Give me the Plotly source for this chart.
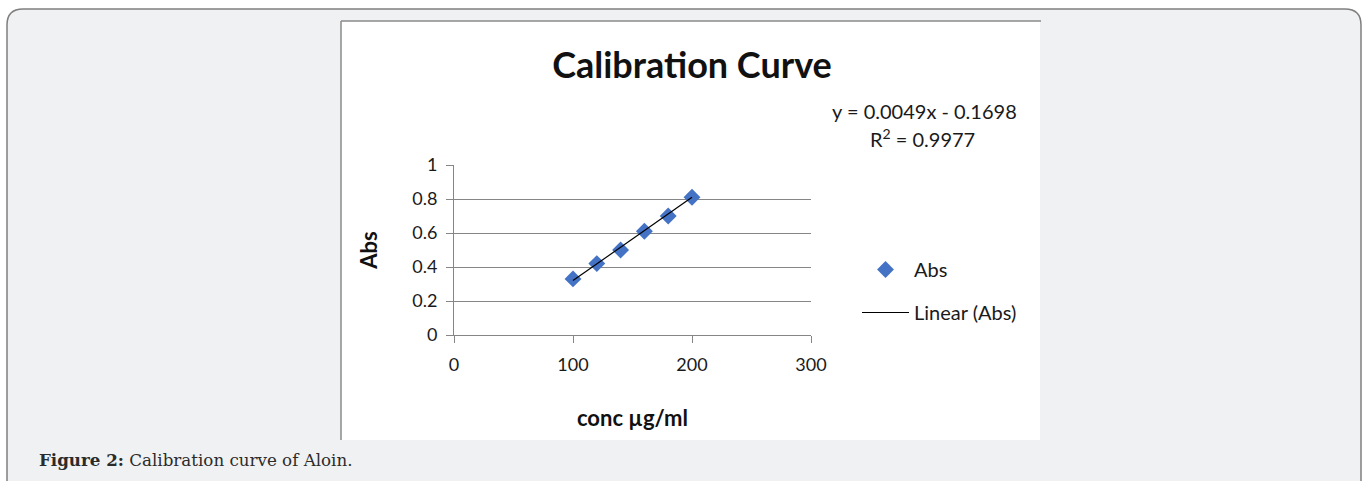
import plotly.graph_objects as go

W, H = 1362, 481

# ---- data ----
conc = [100, 120, 140, 160, 180, 200]
absorb = [0.33, 0.42, 0.50, 0.61, 0.70, 0.81]
slope = 0.0049
intercept = -0.1698
r2 = 0.9977
x_ticks = [0, 100, 200, 300]
y_ticks = [0, 0.2, 0.4, 0.6, 0.8, 1]

def px(x):
    return x / W

def py(y):
    return 1 - y / H

fit_x = [min(conc), max(conc)]
fit_y = [slope * v + intercept for v in fit_x]

FONT = "Lato"
BLUE = "#4472C4"
GRID = "#868686"
TXT = "#1a1a1a"

fig = go.Figure()
fig.add_trace(go.Scatter(
    x=conc, y=absorb, mode="markers", name="Abs", legendgroup="a",
    marker=dict(symbol="diamond", size=13, color=BLUE),
))
fig.add_trace(go.Scatter(
    x=fit_x, y=fit_y, mode="lines", name="Linear (Abs)", legendgroup="b",
    line=dict(color="black", width=1.2),
))

x0, x1 = px(454), px(811)
y0, y1 = py(335), py(165)

r = 16
bx0, by0, bx1, by1 = 7, 9, 1361, 500
box_path = (
    f"M {px(bx0)},{py(by0 + r)} "
    f"Q {px(bx0)},{py(by0)} {px(bx0 + r)},{py(by0)} "
    f"L {px(bx1 - r)},{py(by0)} "
    f"Q {px(bx1)},{py(by0)} {px(bx1)},{py(by0 + r)} "
    f"L {px(bx1)},{py(by1)} L {px(bx0)},{py(by1)} Z"
)

shapes = [
    dict(type="path", xref="paper", yref="paper", path=box_path,
         fillcolor="#f0f1f3", line=dict(color="#7f7f7f", width=1.5), layer="below"),
    dict(type="rect", xref="paper", yref="paper",
         x0=px(341), x1=px(1040), y0=py(440), y1=py(21),
         fillcolor="white", line=dict(width=0), layer="below"),
    dict(type="line", xref="paper", yref="paper",
         x0=px(341), x1=px(341), y0=py(440), y1=py(21),
         line=dict(color="#8a8a8a", width=1.5), layer="below"),
    dict(type="line", xref="paper", yref="paper",
         x0=px(341), x1=px(1041), y0=py(21), y1=py(21),
         line=dict(color="#8a8a8a", width=1.5), layer="below"),
]

annotations = [
    dict(xref="paper", yref="paper", x=px(925), y=py(111),
         text=f"y = {slope}x - {abs(intercept)}", showarrow=False,
         xanchor="center", yanchor="middle",
         font=dict(family=FONT, size=20, color=TXT)),
    dict(xref="paper", yref="paper", x=px(922), y=py(138),
         text=f"R<sup>2</sup> = {r2}", showarrow=False,
         xanchor="center", yanchor="middle",
         font=dict(family=FONT, size=20, color=TXT)),
    dict(xref="paper", yref="paper", x=px(37), y=py(460),
         text="<b>Figure 2:</b> Calibration curve of Aloin.", showarrow=False,
         xanchor="left", yanchor="middle",
         font=dict(family="DejaVu Serif", size=16.7, color="#2b2b2b")),
]

fig.update_layout(
    width=W, height=H,
    margin=dict(l=0, r=0, t=0, b=0, pad=0, autoexpand=False),
    paper_bgcolor="white",
    plot_bgcolor="rgba(0,0,0,0)",
    title=dict(text="<b>Calibration Curve</b>", x=px(692), y=py(65),
               xanchor="center", yanchor="middle", automargin=False,
               font=dict(family=FONT, size=36, color="#111")),
    shapes=shapes,
    annotations=annotations,
    showlegend=True,
    legend=dict(x=px(857), y=py(250), xanchor="left", yanchor="top",
                bgcolor="rgba(0,0,0,0)", tracegroupgap=14, itemwidth=47,
                font=dict(family=FONT, size=20, color=TXT)),
    xaxis=dict(domain=[x0, x1], range=[0, 300], tickvals=x_ticks,
               automargin=False,
               showgrid=False, zeroline=False, showline=True,
               linecolor=GRID, linewidth=1, ticks="outside", ticklen=7,
               tickcolor=GRID, ticklabelstandoff=6,
               tickfont=dict(family=FONT, size=18, color=TXT),
               title=dict(text="<b>conc µg/ml</b>", standoff=37,
                          font=dict(family=FONT, size=22, color="#111"))),
    yaxis=dict(domain=[y0, y1], range=[0, 1], tickvals=y_ticks,
               tickformat="~g", automargin=False,
               showgrid=True, gridcolor=GRID, gridwidth=1,
               zeroline=False, showline=True,
               linecolor=GRID, linewidth=1, ticks="outside", ticklen=7,
               tickcolor=GRID, ticklabelstandoff=5,
               tickfont=dict(family=FONT, size=18, color=TXT),
               title=dict(text="<b>Abs</b>", standoff=28,
                          font=dict(family=FONT, size=22, color="#111"))),
)

fig.write_html(
    "out.html",
    config={"displayModeBar": False},
    post_script="document.body.style.margin='0';document.body.style.overflow='hidden';",
)
